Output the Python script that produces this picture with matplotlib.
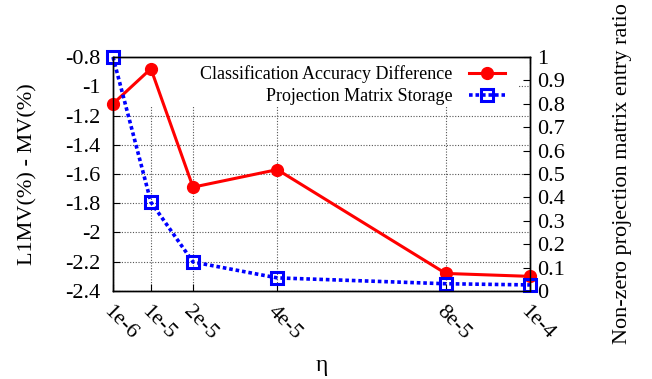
import numpy as np
import matplotlib
matplotlib.use("Agg")
import matplotlib.pyplot as plt
from matplotlib.patches import Rectangle

plt.rcParams['font.family'] = ['Liberation Serif', 'DejaVu Serif']

eta = [1e-6, 1e-5, 2e-5, 4e-5, 8e-5, 1e-4]
eta_labels = ["1e-6", "1e-5", "2e-5", "4e-5", "8e-5", "1e-4"]
acc_diff = [-1.12, -0.88, -1.69, -1.57, -2.28, -2.30]
storage = [1.0, 0.38, 0.124, 0.056, 0.031, 0.026]

fig = plt.figure(figsize=(6.52, 3.79), dpi=100)
ax = fig.add_axes([0.1733, 0.2322, 0.6396, 0.6174])
ax2 = ax.twinx()

ax.set_axisbelow(True)
ax.grid(True, color='#555555', linestyle=(0, (1, 1.5)), linewidth=0.8)
# opaque key box covers the grid but not the curves
ax.add_patch(Rectangle((0.0, 0.785), 0.97, 0.215, transform=ax.transAxes,
                       facecolor='white', edgecolor='none', zorder=1))

l1, = ax.plot(eta, acc_diff, color='#ff0000', lw=2.2, marker='o', ms=8.5,
              zorder=3, clip_on=False, label="Classification Accuracy Difference")
l2, = ax2.plot(eta, storage, color='#0000ff', lw=2.6, linestyle=(0, (1, 0.8)),
               marker='s', ms=9, mfc='none', mew=2.2, clip_on=False,
               label="Projection Matrix Storage")

ax.set_xlim(1e-6, 1e-4)
ax.set_ylim(-2.4, -0.8)
ax2.set_ylim(0, 1)

fs = 16
ax.set_xticks(eta)
ax.set_xticklabels(eta_labels, rotation=-45, ha='left', va='top',
                   rotation_mode='anchor', fontsize=fs)
ax.set_yticks(np.arange(-2.4, -0.79, 0.2))
ax.set_yticklabels(["-2.4", "-2.2", "-2", "-1.8", "-1.6", "-1.4", "-1.2", "-1", "-0.8"],
                   fontsize=fs)
ax2.set_yticks(np.arange(0, 1.01, 0.1))
ax2.set_yticklabels(["0", "0.1", "0.2", "0.3", "0.4", "0.5", "0.6", "0.7", "0.8", "0.9", "1"],
                    fontsize=fs)

ax.tick_params(axis='x', direction='in', top=True, length=5, pad=8)
ax.tick_params(axis='y', direction='in', right=False, length=5, pad=9)
ax2.tick_params(axis='y', direction='in', length=5, pad=5)

ax.set_xlabel("η", fontsize=17, labelpad=8)
ax.set_ylabel("L1MV(%) - MV(%)", fontsize=fs, labelpad=20)
ax2.set_ylabel("Non-zero projection matrix entry ratio", fontsize=fs, labelpad=35)

for a in (ax, ax2):
    for s in a.spines.values():
        s.set_linewidth(1.0)

ax2.legend(handles=[l1, l2], loc='upper right', bbox_to_anchor=(0.97, 1.02),
           frameon=False, markerfirst=False, fontsize=13, handlelength=2.0,
           handletextpad=0.9, labelspacing=0.3, borderaxespad=0.3)

fig.savefig("out.png", dpi=100)
